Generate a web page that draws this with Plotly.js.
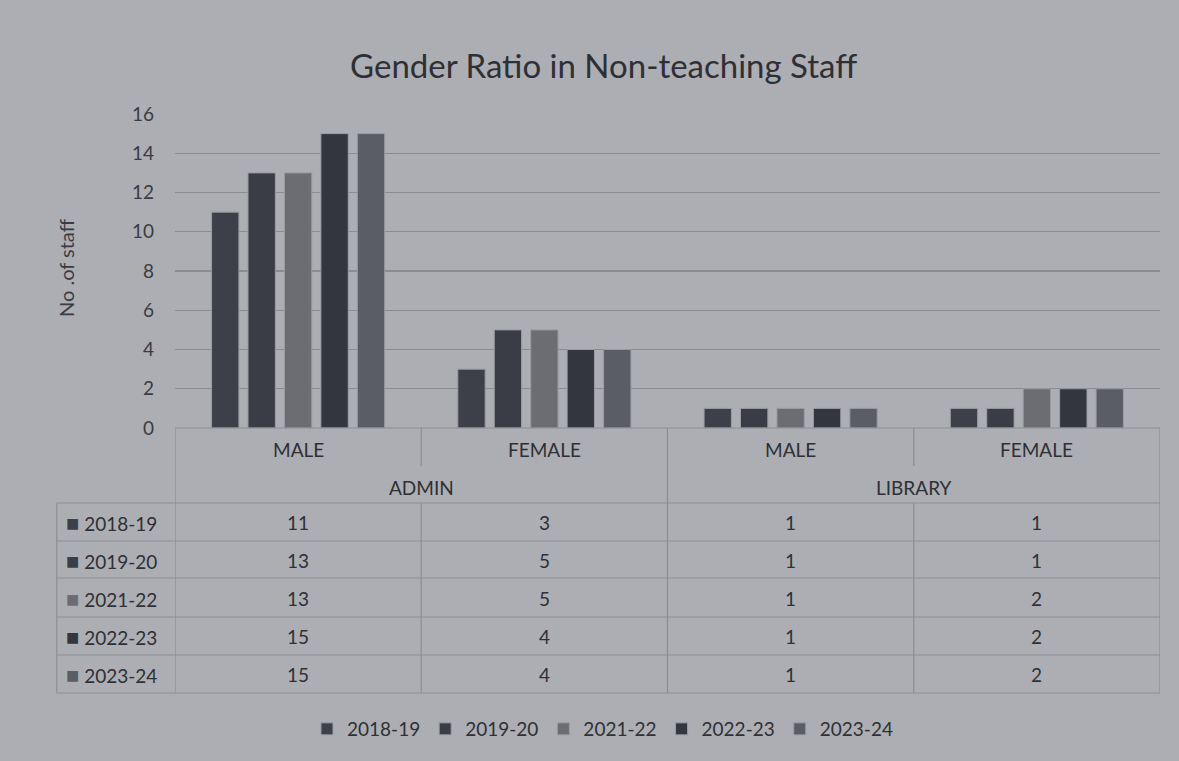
<!DOCTYPE html>
<html>
<head>
<meta charset="utf-8">
<script src="https://cdn.plot.ly/plotly-3.0.1.min.js"></script>
<style>html,body{margin:0;padding:0;background:#acaeb3;}#chart{width:1179px;height:761px;}</style>
</head>
<body>
<div id="chart"></div>
<script>
var genders = ["MALE", "FEMALE", "MALE", "FEMALE"];
var groups = ["ADMIN", "LIBRARY"];
var years = ["2018-19", "2019-20", "2021-22", "2022-23", "2023-24"];
var v2018 = [11, 3, 1, 1];
var v2019 = [13, 5, 1, 1];
var v2021 = [13, 5, 1, 2];
var v2022 = [15, 4, 1, 2];
var v2023 = [15, 4, 1, 2];
var yTicks = [0, 2, 4, 6, 8, 10, 12, 14, 16];

var series = [v2018, v2019, v2021, v2022, v2023];
var colors = ["#3d4048", "#3a3d45", "#6b6d73", "#33363d", "#5b5d64"];
var FONT = "Lato, 'Open Sans', sans-serif";
var TXT = "#2e3035";
var LINE = "#8c8e93";
var FS = 19;

var xs = genders.map(function(_, i){ return i; });
var traces = series.map(function(vals, k){
  return {type: "bar", x: xs, y: vals, name: years[k],
    marker: {color: colors[k], line: {color: "#9a9ca1", width: 1}}};
});

// table geometry in paper-y (plot area: top 114px, bottom 428px, height 314px)
function py(pix){ return (428 - pix) / 314; }
var rowLines = [503, 541, 578, 617, 655, 693];
var rowCenters = [522, 560, 598, 636, 674];

var shapes = [];
var annotations = [];
rowLines.forEach(function(p){
  shapes.push({type: "line", xref: "paper", yref: "paper", x0: -0.12, x1: 1, y0: py(p), y1: py(p), line: {color: LINE, width: 1.2}});
});
shapes.push({type: "line", xref: "paper", yref: "paper", x0: 0, x1: 1, y0: 0, y1: 0, line: {color: LINE, width: 1.2}});
for (var i = 0; i <= genders.length; i++) {
  if (i === 1 || i === 3) {
    shapes.push({type: "line", xref: "x", yref: "paper", x0: i - 0.5, x1: i - 0.5, y0: 0, y1: py(466), line: {color: LINE, width: 1.2}});
    shapes.push({type: "line", xref: "x", yref: "paper", x0: i - 0.5, x1: i - 0.5, y0: py(503), y1: py(693), line: {color: LINE, width: 1.2}});
  } else {
    shapes.push({type: "line", xref: "x", yref: "paper", x0: i - 0.5, x1: i - 0.5, y0: 0, y1: py(693), line: {color: LINE, width: 1.2}});
  }
}
shapes.push({type: "line", xref: "paper", yref: "paper", x0: -0.12, x1: -0.12, y0: py(503), y1: py(693), line: {color: LINE, width: 1.2}});

genders.forEach(function(g, i){
  annotations.push({xref: "x", yref: "paper", x: i, y: py(449), yanchor: "middle", text: g, showarrow: false, font: {family: FONT, size: FS, color: TXT}});
});
groups.forEach(function(g, j){
  annotations.push({xref: "x", yref: "paper", x: j * 2 + 0.5, y: py(487), yanchor: "middle", text: g, showarrow: false, font: {family: FONT, size: FS, color: TXT}});
});
series.forEach(function(vals, k){
  annotations.push({xref: "paper", yref: "paper", x: -0.113, xanchor: "left", y: py(rowCenters[k]), yanchor: "middle",
    text: '<span style="color:' + colors[k] + ';font-size:22px">■</span> ' + years[k], showarrow: false, font: {family: FONT, size: FS, color: TXT}});
  vals.forEach(function(v, i){
    annotations.push({xref: "x", yref: "paper", x: i, y: py(rowCenters[k]), yanchor: "middle", text: String(v), showarrow: false, font: {family: FONT, size: FS, color: TXT}});
  });
});
annotations.push({xref: "paper", yref: "paper", x: (66 - 175) / 985, y: py(268), xanchor: "center", yanchor: "middle", textangle: -90,
  text: "No .of staff", showarrow: false, font: {family: FONT, size: 20, color: "#3a3c41"}});

var layout = {
  width: 1179, height: 761,
  paper_bgcolor: "#acaeb3", plot_bgcolor: "#acaeb3",
  margin: {l: 175, r: 19, t: 114, b: 333},
  font: {family: FONT, color: TXT},
  title: {text: "Gender Ratio in Non-teaching Staff", font: {family: FONT, size: 33, color: "#2e3035"}, x: 0.512, xanchor: "center", y: 0.913, yanchor: "middle"},
  barmode: "group", bargap: 0.26, bargroupgap: 0.25,
  xaxis: {range: [-0.5, 3.5], showticklabels: false, showgrid: false, zeroline: false, fixedrange: true},
  yaxis: {range: [0, 16], tickvals: yTicks, ticktext: yTicks.map(String), showgrid: true, gridcolor: "#8a8c91", gridwidth: 1.2,
    zeroline: false, ticks: "", ticklabelstandoff: 20, tickfont: {family: FONT, size: FS, color: "#3a3c41"}},
  showlegend: true,
  legend: {orientation: "h", x: 0.434, xanchor: "center", y: py(729), yanchor: "middle", font: {family: FONT, size: FS, color: TXT}, itemwidth: 30, bgcolor: "rgba(0,0,0,0)"},
  shapes: shapes,
  annotations: annotations
};

Plotly.newPlot("chart", traces, layout, {displayModeBar: false, staticPlot: true});
</script>
</body>
</html>
